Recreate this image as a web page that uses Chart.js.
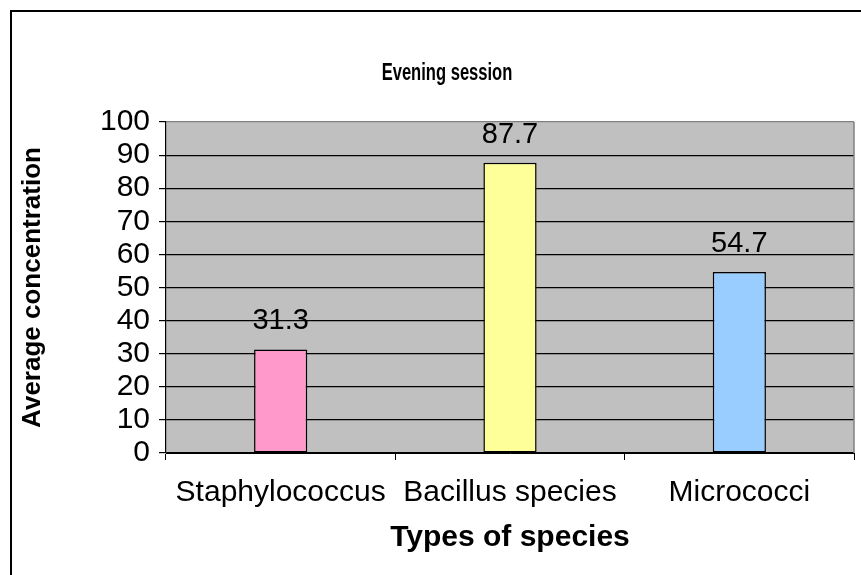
<!DOCTYPE html>
<html>
<head>
<meta charset="utf-8">
<script src="https://cdn.jsdelivr.net/npm/chart.js@4/dist/chart.umd.min.js"></script>
<style>
  html,body{margin:0;padding:0;background:#fff;}
  canvas{display:block;}
</style>
</head>
<body>
<canvas id="mainChart" width="861" height="575"></canvas>
<script>
"use strict";
// 数据
const chartTitle="Evening session";
const categories=["Staphylococcus","Bacillus species","Micrococci"];
const averageValues=[31.3,87.7,54.7];
const barColors=["#ff99cc","#ffff99","#99ccff"];
const yTicks=[0,10,20,30,40,50,60,70,80,90,100];

const FONT_FAMILY="Arial, 'Liberation Sans', sans-serif";

//外框+灰色绘图区背景+标题
const framePlugin={
    id:"frame",
    beforeDraw(chart){
        const {ctx,chartArea:a}=chart;
        ctx.save();
        ctx.fillStyle="#c0c0c0";
        ctx.fillRect(a.left,a.top,a.right-a.left,a.bottom-a.top);
        ctx.strokeStyle="#000";
        ctx.lineWidth=2;
        ctx.beginPath();
        ctx.moveTo(11,chart.height);
        ctx.lineTo(11,11);
        ctx.lineTo(chart.width,11);
        ctx.stroke();
        //标题：原图字体偏窄，横向压缩一点
        ctx.fillStyle="#000";
        ctx.font="bold 23px "+FONT_FAMILY;
        ctx.textAlign="center";
        ctx.textBaseline="middle";
        ctx.translate(447,74);
        ctx.scale(0.72,1);
        ctx.fillText(chartTitle,0,0);
        ctx.restore();
    },
    beforeDatasetsDraw(chart){
        const {ctx,chartArea:a}=chart;
        ctx.save();
        ctx.strokeStyle="#808080";
        ctx.lineWidth=1.5;
        ctx.beginPath();
        ctx.moveTo(a.right,a.top);
        ctx.lineTo(a.right,a.bottom);
        ctx.stroke();
        ctx.restore();
    }
};

//柱子上方的数值
const valueLabelPlugin={
    id:"valueLabels",
    afterDatasetsDraw(chart){
        const {ctx}=chart;
        const meta=chart.getDatasetMeta(0);
        ctx.save();
        ctx.fillStyle="#000";
        ctx.font="29px "+FONT_FAMILY;
        ctx.textAlign="center";
        ctx.textBaseline="alphabetic";
        meta.data.forEach((bar,i)=>{
            ctx.fillText(averageValues[i].toFixed(1),bar.x,bar.y-20);
        });
        ctx.restore();
    }
};

const data={
    labels:categories,
    datasets:[{
        data:averageValues,
        backgroundColor:barColors,
        borderColor:"#000",
        borderWidth:1.5,
        borderSkipped:false,
        barPercentage:0.29,
        categoryPercentage:0.8
    }]
};

const options={
    responsive:false,
    animation:false,
    layout:{padding:{left:12,right:7,top:122,bottom:0}},
    plugins:{
        legend:{display:false},
        tooltip:{enabled:false},
        title:{display:false}
    },
    scales:{
        x:{
            grid:{
                drawOnChartArea:false,
                drawTicks:true,
                tickLength:7,
                color:"#000",
                offset:true
            },
            border:{color:"#000",width:1},
            ticks:{
                color:"#000",
                font:{family:FONT_FAMILY,size:30},
                padding:15,
                maxRotation:0,
                autoSkip:false
            },
            title:{
                display:true,
                text:"Types of species",
                color:"#000",
                font:{family:FONT_FAMILY,size:30,weight:"bold"},
                padding:{top:0,bottom:19}
            },
            afterFit(scale){scale.height=122;}
        },
        y:{
            min:0,
            max:100,
            afterBuildTicks(scale){scale.ticks=yTicks.map(v=>({value:v}));},
            grid:{
                color:ctx=>ctx.tick&&ctx.tick.value===100?"#808080":"#000",
                tickColor:"#000",
                tickLength:7,
                lineWidth:1.2
            },
            border:{color:"#000",width:1.2},
            ticks:{
                color:"#000",
                font:{family:FONT_FAMILY,size:30},
                padding:9,
                autoSkip:false
            },
            title:{
                display:true,
                text:"Average concentration",
                color:"#000",
                font:{family:FONT_FAMILY,size:26,weight:"bold"},
                padding:{top:5,bottom:0}
            },
            afterFit(scale){scale.width=154;}
        }
    }
};

const mainChart=new Chart(document.getElementById("mainChart"),{
    type:"bar",
    data,
    options,
    plugins:[framePlugin,valueLabelPlugin]
});
</script>
</body>
</html>
